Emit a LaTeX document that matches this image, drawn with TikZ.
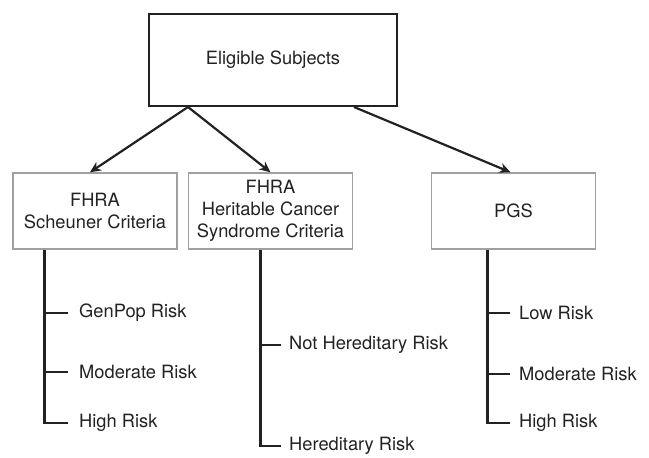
\documentclass[tikz,border=0pt]{standalone}
\usepackage{fontspec}
\setmainfont{TeX Gyre Heros}
\usetikzlibrary{arrows.meta}
\definecolor{inkgray}{HTML}{222222}
\definecolor{framegray}{HTML}{A0A0A0}
\tikzset{
    rootbox/.style = {draw=inkgray, line width=2pt, minimum width=248pt, minimum height=92pt, text=inkgray},
    group/.style = {draw=framegray, line width=1.5pt, minimum width=164pt, minimum height=76pt, align=center, text=inkgray},
    split/.style = {-{Stealth[length=11pt, width=10pt]}, line width=2.2pt, draw=inkgray},
    branch/.style = {line width=2.7pt, draw=inkgray},
    leaf/.style = {anchor=west, inner sep=0pt, text=inkgray}
}

\begin{document}
\begin{tikzpicture}[x=1pt, y=-1pt, font=\fontsize{18.3}{22}\selectfont]
    \useasboundingbox (0,0) rectangle (649,458);
    \node[rootbox] (subj) at (273,60) {Eligible Subjects};
    \node[group] (scheu) at (95,211) {FHRA\\Scheuner Criteria};
    \node[group] (herit) at (270.5,211) {FHRA\\Heritable Cancer\\Syndrome Criteria};
    \node[group] (pgs) at (513.5,211) {PGS};
    \draw[split] ([xshift=40pt]subj.south west) -- ([xshift=-5pt]scheu.north);
    \draw[split] ([xshift=40pt]subj.south west) -- (herit.north);
    \draw[split] ([xshift=-44pt]subj.south east) -- ([xshift=-3pt]pgs.north);
    % Scheuner branch
    \coordinate (lroot) at ([xshift=32pt]scheu.south west);
    \node[leaf] (genpop) at (79,313) {GenPop Risk};
    \node[leaf] (modl) at (79,372) {Moderate Risk};
    \node[leaf] (highl) at (79,423) {High Risk};
    \draw[branch] (lroot) |- ([xshift=-11pt]highl.west);
    \draw[branch] (lroot |- genpop.west) -- ([xshift=-11pt]genpop.west);
    \draw[branch] (lroot |- modl.west) -- ([xshift=-11pt]modl.west);
    % heritable syndrome branch
    \coordinate (mroot) at ([xshift=73pt]herit.south west);
    \node[leaf] (nother) at (289,345) {Not Hereditary Risk};
    \node[leaf] (hered) at (289,446) {Hereditary Risk};
    \draw[branch] (mroot) |- ([xshift=-8pt]hered.west);
    \draw[branch] (mroot |- nother.west) -- ([xshift=-8pt]nother.west);
    % PGS branch
    \coordinate (proot) at ([xshift=57pt]pgs.south west);
    \node[leaf] (low) at (519,313) {Low Risk};
    \node[leaf] (modr) at (519,374) {Moderate Risk};
    \node[leaf] (highr) at (519,423) {High Risk};
    \draw[branch] (proot) |- ([xshift=-9pt]highr.west);
    \draw[branch] (proot |- low.west) -- ([xshift=-9pt]low.west);
    \draw[branch] (proot |- modr.west) -- ([xshift=-9pt]modr.west);
\end{tikzpicture}
\end{document}
